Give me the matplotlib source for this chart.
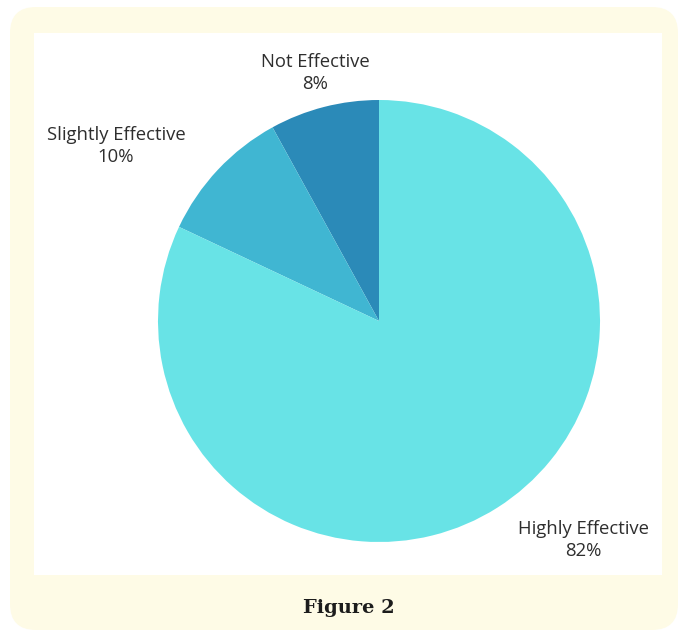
import matplotlib
matplotlib.use('Agg')
import matplotlib.pyplot as plt
from matplotlib.patches import FancyBboxPatch, Rectangle

labels = ['Not Effective', 'Slightly Effective', 'Highly Effective']
values = [8, 10, 82]
colors = ['#2b8ab8', '#40b6d2', '#68e3e6']

W, H = 680, 638
fig = plt.figure(figsize=(W / 100, H / 100), dpi=100)
fig.patch.set_facecolor('white')

# background frame in pixel coords
bg = fig.add_axes([0, 0, 1, 1])
bg.set_xlim(0, W); bg.set_ylim(H, 0); bg.axis('off')
bg.add_patch(FancyBboxPatch((10, 7), 668, 623, boxstyle='round,pad=0,rounding_size=26',
                            facecolor='#fefbe6', edgecolor='none'))
bg.add_patch(Rectangle((34, 33), 628, 542, facecolor='white', edgecolor='none'))

# pie
cx, cy, r = 379, 321, 221
ax = fig.add_axes([(cx - r) / W, (H - cy - r) / H, 2 * r / W, 2 * r / H])
ax.pie(values, colors=colors, startangle=90, counterclock=True,
       wedgeprops=dict(linewidth=0))
ax.set_xlim(-1, 1); ax.set_ylim(-1, 1)
ax.set_aspect('equal')

lab_pos = [(315, 73), (116, 146), (583, 540)]
for lab, v, (x, y) in zip(labels, values, lab_pos):
    bg.text(x, y, f'{lab}\n{v}%', ha='center', va='center', fontsize=13.3,
            family='Open Sans', color='#2e2e2e', linespacing=1.25)

bg.text(349, 608, 'Figure 2', ha='center', va='center', fontsize=14,
        family='DejaVu Serif', fontweight='bold', color='#1c1c1c')

fig.savefig('out.png', dpi=100)
